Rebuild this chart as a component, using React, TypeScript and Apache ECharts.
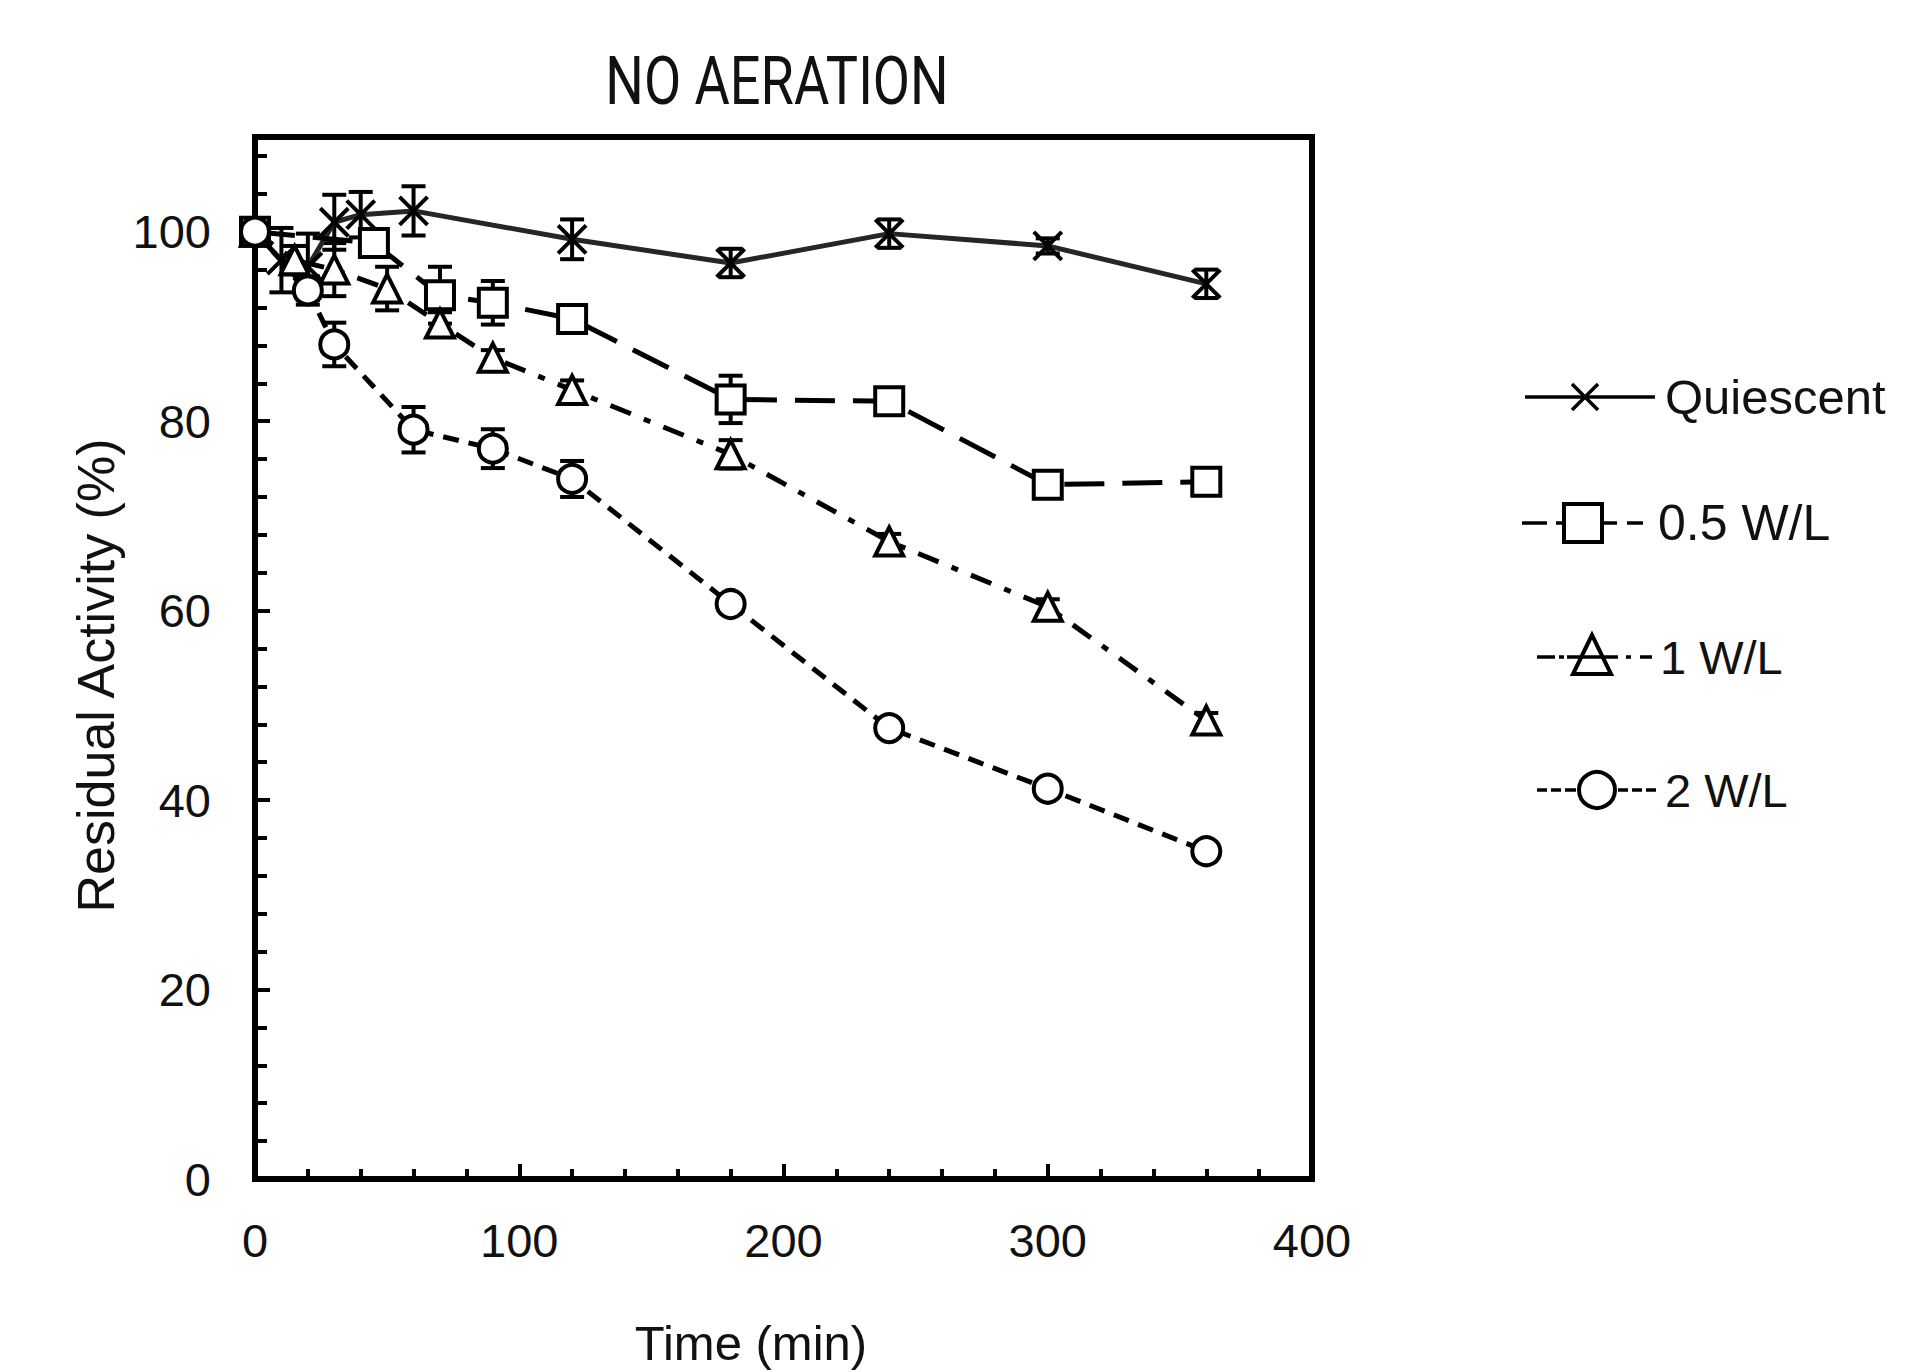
import React, { useEffect, useRef } from 'react';
import * as echarts from 'echarts';

// ---------------- data ----------------
const seriesNames = ['Quiescent', '0.5 W/L', '1 W/L', '2 W/L'];

const quiescentTime = [0, 10, 20, 30, 40, 60, 120, 180, 240, 300, 360];
const quiescentValue = [100, 97.0, 96.3, 101.0, 101.8, 102.2, 99.2, 96.7, 99.8, 98.5, 94.5];
const quiescentError = [0.8, 3.4, 3.5, 2.9, 2.4, 2.6, 2.1, 1.5, 1.5, 0.8, 1.5];

const halfTime = [0, 45, 70, 90, 120, 180, 240, 300, 360];
const halfValue = [100, 98.8, 93.3, 92.5, 90.8, 82.3, 82.1, 73.3, 73.6];
const halfError = [0.5, 1.0, 3.0, 2.3, 0.8, 2.5, 0.6, 0.8, 0.8];

const oneTime = [0, 15, 30, 50, 70, 90, 120, 180, 240, 300, 360];
const oneValue = [100, 97.0, 96.0, 94.0, 90.3, 86.7, 83.3, 76.5, 67.3, 60.4, 48.4];
const oneError = [0.5, 1.5, 2.8, 2.3, 1.2, 0.8, 1.0, 1.5, 0.8, 0.8, 0.8];

const twoTime = [0, 20, 30, 60, 90, 120, 180, 240, 300, 360];
const twoValue = [100, 93.8, 88.1, 79.1, 77.1, 73.9, 60.7, 47.6, 41.2, 34.6];
const twoError = [0.5, 1.5, 2.3, 2.4, 2.05, 1.9, 0.8, 0.8, 0.8, 0.8];

const yTickLabels = [0, 20, 40, 60, 80, 100];
const xTickLabels = [0, 100, 200, 300, 400];

const titleText = 'NO AERATION';
const xAxisTitle = 'Time (min)';
const yAxisTitle = 'Residual Activity (%)';

// ---------------- helpers ----------------
const FONT = '"Liberation Sans", Arial, sans-serif';
const BLACK = '#000';

const zip = (t: number[], v: number[], e?: number[]) =>
  t.map((x, i) => (e ? [x, v[i], e[i]] : [x, v[i]]));

const errorBarSeries = (t: number[], v: number[], e: number[]) => ({
  type: 'custom',
  silent: true,
  data: zip(t, v, e),
  encode: { x: 0, y: 1 },
  renderItem: (_params: any, api: any) => {
    const x = api.value(0);
    const y = api.value(1);
    const err = api.value(2);
    const top = api.coord([x, y + err]);
    const bot = api.coord([x, y - err]);
    const hw = 12;
    const st = { stroke: BLACK, lineWidth: 4 };
    return {
      type: 'group',
      children: [
        { type: 'line', shape: { x1: top[0], y1: top[1], x2: bot[0], y2: bot[1] }, style: st },
        { type: 'line', shape: { x1: top[0] - hw, y1: top[1], x2: top[0] + hw, y2: top[1] }, style: st },
        { type: 'line', shape: { x1: bot[0] - hw, y1: bot[1], x2: bot[0] + hw, y2: bot[1] }, style: st },
      ],
    };
  },
});

const lineSeries = (
  name: string,
  t: number[],
  v: number[],
  symbol: string,
  dash: any,
  color: string,
  width: number
) => ({
  type: 'line',
  name,
  data: zip(t, v),
  symbol,
  symbolSize: 28,
  showSymbol: true,
  showAllSymbol: true,
  lineStyle: { color, width, type: dash },
  itemStyle: {
    color: symbol.startsWith('path') ? 'none' : '#fff',
    borderColor: BLACK,
    borderWidth: 4,
  },
  emphasis: { disabled: true },
});

const X_PATH = 'path://M0 0L10 10M10 0L0 10';

export default function App() {
  const ref = useRef<HTMLDivElement>(null);

  useEffect(() => {
    if (!ref.current) return;
    const chart = echarts.init(ref.current, undefined, { renderer: 'svg' });

    const lstyle = { stroke: BLACK, lineWidth: 3.5 };
    const tstyle = (text: string, x: number, y: number, size = 47) => ({
      type: 'text',
      x,
      y,
      style: {
        text,
        fill: '#111',
        font: `${size}px ${FONT}`,
        textAlign: 'left',
        textVerticalAlign: 'middle',
      },
    });
    const seg = (x1: number, x2: number, y: number) => ({
      type: 'line',
      shape: { x1, y1: y, x2, y2: y },
      style: lstyle,
    });

    const legend: any[] = [
      // Quiescent
      seg(1525, 1655, 397),
      { type: 'line', shape: { x1: 1572, y1: 384, x2: 1598, y2: 410 }, style: lstyle },
      { type: 'line', shape: { x1: 1598, y1: 384, x2: 1572, y2: 410 }, style: lstyle },
      tstyle(seriesNames[0], 1665, 397, 49),
      // 0.5 W/L
      seg(1522, 1547, 523),
      seg(1556, 1617, 523),
      seg(1627, 1643, 523),
      {
        type: 'rect',
        shape: { x: 1564, y: 504, width: 38, height: 38 },
        style: { fill: '#fff', stroke: BLACK, lineWidth: 4 },
      },
      tstyle(seriesNames[1], 1658, 523, 50),
      // 1 W/L
      seg(1537, 1555, 657),
      seg(1559, 1564, 657),
      seg(1567, 1618, 657),
      seg(1626, 1631, 657),
      seg(1640, 1652, 657),
      {
        type: 'polygon',
        shape: { points: [[1592, 635], [1573, 674], [1611, 674]] },
        style: { fill: 'none', stroke: BLACK, lineWidth: 4 },
      },
      tstyle(seriesNames[2], 1660, 657),
      // 2 W/L
      seg(1537, 1547, 790),
      seg(1551, 1561, 790),
      seg(1565, 1576, 790),
      seg(1618, 1628, 790),
      seg(1632, 1642, 790),
      seg(1646, 1656, 790),
      {
        type: 'circle',
        shape: { cx: 1597, cy: 790, r: 18 },
        style: { fill: '#fff', stroke: BLACK, lineWidth: 4 },
      },
      tstyle(seriesNames[3], 1665, 790),
    ];

    const option: any = {
      animation: false,
      backgroundColor: '#fff',
      grid: {
        left: 255,
        top: 137,
        width: 1057,
        height: 1043,
        show: true,
        borderColor: BLACK,
        borderWidth: 6,
        backgroundColor: 'transparent',
      },
      graphic: [
        {
          type: 'text',
          x: 777,
          y: 82,
          scaleX: 0.82,
          style: {
            text: titleText,
            fill: '#111',
            font: `66px Roboto, "DejaVu Sans", sans-serif`,
            textAlign: 'center',
            textVerticalAlign: 'middle',
          },
        },
        ...legend,
      ],
      xAxis: [
        {
          type: 'value',
          min: 0,
          max: 400,
          interval: 100,
          axisLine: { show: true, onZero: false, lineStyle: { color: BLACK, width: 6 } },
          axisTick: { show: true, inside: true, length: 15, lineStyle: { color: BLACK, width: 4 } },
          minorTick: { show: true, splitNumber: 5, length: 10, lineStyle: { color: BLACK, width: 4 } },
          splitLine: { show: false },
          minorSplitLine: { show: false },
          axisLabel: {
            margin: 38,
            fontSize: 47,
            color: '#111',
            fontFamily: FONT,
            formatter: (v: number) => (xTickLabels.includes(v) ? String(v) : ''),
          },
          name: xAxisTitle,
          nameLocation: 'middle',
          nameGap: 139,
          nameTextStyle: {
            fontSize: 49,
            color: '#111',
            fontFamily: FONT,
            padding: [0, 65, 0, 0],
          },
        },
      ],
      yAxis: [
        {
          type: 'value',
          min: 0,
          max: 110,
          interval: 20,
          position: 'left',
          axisLine: { show: true, onZero: false, lineStyle: { color: BLACK, width: 6 } },
          axisTick: { show: true, inside: true, length: 15, lineStyle: { color: BLACK, width: 4 } },
          splitLine: { show: false },
          axisLabel: {
            margin: 44,
            fontSize: 47,
            color: '#111',
            fontFamily: FONT,
            formatter: (v: number) => (yTickLabels.includes(v) ? String(v) : ''),
          },
          name: yAxisTitle,
          nameLocation: 'middle',
          nameGap: 128,
          nameTextStyle: {
            fontSize: 52,
            color: '#111',
            fontFamily: FONT,
            padding: [0, 35, 0, 0],
          },
        },
        {
          type: 'value',
          min: 0,
          max: 110,
          interval: 4,
          position: 'left',
          offset: 0,
          axisLine: { show: false },
          axisTick: { show: true, inside: true, length: 12, lineStyle: { color: BLACK, width: 4 } },
          axisLabel: { show: false },
          splitLine: { show: false },
        },
      ],
      series: [
        errorBarSeries(quiescentTime, quiescentValue, quiescentError),
        lineSeries(seriesNames[0], quiescentTime, quiescentValue, X_PATH, 'solid', '#262626', 5),
        errorBarSeries(halfTime, halfValue, halfError),
        lineSeries(seriesNames[1], halfTime, halfValue, 'rect', [40, 18], BLACK, 5),
        errorBarSeries(oneTime, oneValue, oneError),
        lineSeries(seriesNames[2], oneTime, oneValue, 'triangle', [22, 14, 7, 14], BLACK, 5),
        errorBarSeries(twoTime, twoValue, twoError),
        lineSeries(seriesNames[3], twoTime, twoValue, 'circle', [16, 10], BLACK, 5),
      ],
    };

    chart.setOption(option);
    return () => chart.dispose();
  }, []);

  return (
    <div
      ref={ref}
      style={{ position: 'fixed', left: 0, top: 0, width: 1931, height: 1372, background: '#fff' }}
    />
  );
}
